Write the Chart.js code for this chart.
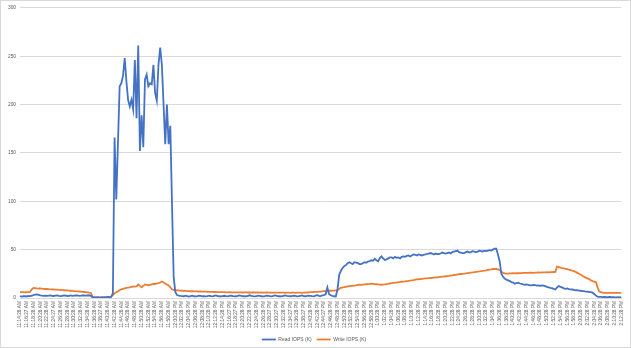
<!DOCTYPE html>
<html>
<head>
<meta charset="utf-8">
<script src="https://cdn.jsdelivr.net/npm/chart.js@4/dist/chart.umd.min.js"></script>
<style>
  html, body { margin: 0; padding: 0; background: #fff; }
  #box { width: 631px; height: 348px; box-sizing: border-box; border: 1px solid #d9d9d9; overflow: hidden; }
</style>
</head>
<body>
<div id="box"><canvas id="chart"></canvas></div>
<script>
// one sample every 30 s, a tick label every 2 min
const tickLabels = [
  '11:14:28 AM','11:16:27 AM','11:18:28 AM','11:20:28 AM','11:22:28 AM','11:24:27 AM','11:26:28 AM','11:28:28 AM',
  '11:30:28 AM','11:32:28 AM','11:34:28 AM','11:36:28 AM','11:38:27 AM','11:40:28 AM','11:42:28 AM','11:44:28 AM',
  '11:46:28 AM','11:48:28 AM','11:50:28 AM','11:52:28 AM','11:54:28 AM','11:56:28 AM','11:58:28 AM','12:00:28 PM',
  '12:02:28 PM','12:04:28 PM','12:06:28 PM','12:08:28 PM','12:10:28 PM','12:12:28 PM','12:14:28 PM','12:16:27 PM',
  '12:18:27 PM','12:20:28 PM','12:22:28 PM','12:24:28 PM','12:26:28 PM','12:28:27 PM','12:30:27 PM','12:32:28 PM',
  '12:34:27 PM','12:36:28 PM','12:38:27 PM','12:40:28 PM','12:42:28 PM','12:44:27 PM','12:46:28 PM','12:48:28 PM',
  '12:50:28 PM','12:52:28 PM','12:54:28 PM','12:56:28 PM','12:58:28 PM','1:00:28 PM','1:02:28 PM','1:04:28 PM',
  '1:06:28 PM','1:08:28 PM','1:10:28 PM','1:12:28 PM','1:14:28 PM','1:16:28 PM','1:18:28 PM','1:20:28 PM',
  '1:22:28 PM','1:24:28 PM','1:26:28 PM','1:28:28 PM','1:30:28 PM','1:32:28 PM','1:34:28 PM','1:36:28 PM',
  '1:38:28 PM','1:40:28 PM','1:42:28 PM','1:44:28 PM','1:46:28 PM','1:48:28 PM','1:50:28 PM','1:52:28 PM',
  '1:54:28 PM','1:56:28 PM','1:58:28 PM','2:00:28 PM','2:02:28 PM','2:04:28 PM','2:06:28 PM','2:08:28 PM',
  '2:10:28 PM','2:12:28 PM'
];

const readIops = [
  2,1.5,1.8,2,1.6,2.2,2,2.5,3,3.6,3.8,3.2,2.8,2.5,2.3,2.5,2.2,2.4,2.6,2.3,
  2.1,2.4,2.6,2.2,2,2.3,2.6,2.4,2.1,2.3,2.6,2.2,2.4,2.8,2.6,2.3,2.5,2.8,2.6,2.4,
  2.6,2.8,2.2,0.6,0.5,0.6,0.5,0.4,0.6,0.5,0.5,0.6,1,0.8,1,5,166,102,160,219,
  222,230,248,224,205,198,205,195,246,186,261,152,189,156,226,231,219,222,221,241,
  212,204,241,259,241,200,159,200,159,178,97,21,6,3,2.5,2.2,2,1.8,2.4,2,
  1.5,2,2.4,1.8,1.6,2,2.5,2.2,1.8,2,1.6,1.9,2.4,2,1.7,2.2,2.6,2,1.8,1.6,
  2,2.3,1.9,1.7,2.1,2.5,2,1.6,1.8,2.2,2.6,2.1,1.8,2,1.7,2.3,2.8,2.2,1.9,1.7,
  2,2.4,2.1,1.8,1.6,2,2.5,2.2,1.9,1.7,2.1,2.6,2.3,1.8,2,1.7,2.2,2.7,2.1,1.9,
  1.8,2,2.4,2.1,1.7,1.9,2.3,2.6,2,1.8,2.1,2.5,2.2,1.9,1.7,2.4,2.9,2.3,2,2.6,
  3,4,11,4,2.8,2.2,1.8,1.5,9,24,28,31,33,34,36,37,36,35,37,36.5,
  36,35,35,36,37,36.5,37.7,38,39,38.5,40.5,39,38,41,43,41,39.4,40,41,42,
  42,41,42.5,41.5,42,41,42.5,43,42.5,43.5,44,43,44,45,44.7,44,45,44.5,44,44.7,
  45,45.5,46,46.5,46,45,46,45.5,45.4,46,47,46.5,46,46.5,47,46,47.5,48,48.5,49,
  47.5,47,46.5,46.5,47.5,48,47,47.5,48.5,48,47.5,48,49,48.5,48,49,48.5,49,49.5,49,
  50,51,51,45,38,25,22,20,19,18.3,17.5,16.5,16,14.8,15.5,15.8,15,14.5,14,13.7,
  14,13.5,13.2,13,13.5,13.2,12.8,13,12.5,13,12.8,12.3,11.5,11,10.5,10.2,9.5,8.8,11,12.3,
  11.5,11,10,9.5,9.8,9.2,9,8.8,8.5,8,8.2,7.7,7.5,7.2,7,6.7,6.5,6.2,6,5.5,
  4.2,2.5,1.4,1.2,1.1,1,1.2,1,1,1.1,0.9,1,0.8,0.7,0.9,0.7,0.8
];

const writeIops = [
  6,6,6,5.8,6,6,6.2,9,10.5,10.3,10,9.8,9.9,9.6,9.5,9.3,9.4,9.1,9,8.9,
  8.8,8.6,8.6,8.4,8.3,8.1,8,7.9,7.8,7.6,7.5,7.3,7.2,7,6.9,6.7,6.6,6.4,6.2,6,
  5.8,5.5,5.2,1,0.8,0.7,0.8,0.7,0.6,0.7,0.8,0.7,0.7,0.8,1.5,3,5,6,7,8,
  9,9.5,10,10.5,10.8,11,11.5,12,11.8,12,14,12.5,11,12.5,14,13.5,13,13.5,14,14.5,
  14.5,15,15.5,16,17,16,15,14,13,11,9,8.5,8,7.8,7.8,7.6,7.5,7.4,7.3,7.2,
  7.1,7,7,6.9,6.8,6.8,6.7,6.7,6.6,6.5,6.5,6.4,6.4,6.3,6.3,6.2,6.2,6.1,6.1,6,
  6,6,5.9,5.9,6,5.9,5.8,5.9,5.8,5.8,5.9,5.8,5.7,5.8,5.8,5.7,5.8,5.7,5.7,5.8,
  5.7,5.7,5.6,5.7,5.6,5.6,5.7,5.6,5.5,5.6,5.6,5.5,5.6,5.5,5.5,5.6,5.5,5.4,5.5,5.5,
  5.4,5.5,5.5,5.4,5.5,5.6,5.5,5.4,5.5,5.6,5.7,5.8,6,6.1,6.2,6.3,6.4,6.5,6.6,6.8,
  7,7.2,7.4,7.5,7.5,7.6,7.6,7.8,8,9.5,10.5,11,11.2,11.6,12,12.3,12.5,12.6,12.8,13,
  13.5,13.7,13.5,13.8,14,14.2,14.3,14.5,14.8,14.6,14.4,14.2,14,13.8,13.7,13.8,14,14.3,14.6,15,
  15.3,15.6,15.8,16,16.5,16.6,16.8,17,17.2,17.5,17.7,18,18.3,18.6,19,19.2,19.4,19.6,19.8,20,
  20.2,20.3,20.5,20.7,20.8,21,21.2,21.4,21.6,21.8,22,22.2,22.5,22.7,22.9,23.2,23.5,23.8,24,24.3,
  24.6,24.8,25,25.3,25.5,25.8,26,26.3,26.5,26.8,27,27.3,27.5,27.8,28,28.3,28.6,29,29.3,29.6,
  30,30,30.2,29.5,29,27,26,25.5,25.3,25.3,25.5,25.4,25.6,25.5,25.7,25.6,25.8,25.7,25.9,26,
  26,25.9,26.1,26.2,26,26.3,26.2,26.4,26.3,26.4,26.5,26.4,26.6,26.5,26.7,26.8,26.9,27,32.4,32,
  31.5,31,30.6,30.2,29.8,29.4,28.8,28.3,27.8,27,26,25,24,23,21.8,21,20.3,19.5,18.3,17.5,
  17,16.5,11,6.7,6,5.6,5.3,5.3,5.2,5.3,5.3,5.2,5.3,5.3,5.2,5.3,5.3
];

const labels = readIops.map((v, i) => (i % 4 === 0 ? tickLabels[i / 4] : ''));
const font = '"Liberation Sans", sans-serif';

new Chart(document.getElementById('chart'), {
  type: 'line',
  data: {
    labels: labels,
    datasets: [
      { label: 'Read IOPS (K)', data: readIops, borderColor: '#4472C4', backgroundColor: '#4472C4',
        borderWidth: 1.8, pointRadius: 0, tension: 0, fill: false },
      { label: 'Write IOPS (K)', data: writeIops, borderColor: '#ED7D31', backgroundColor: '#ED7D31',
        borderWidth: 1.8, pointRadius: 0, tension: 0, fill: false }
    ]
  },
  options: {
    responsive: true,
    maintainAspectRatio: false,
    animation: false,
    // legend box carries 10px of built-in slack, pull it down a bit
    layout: { padding: { left: 3, right: 6, top: 2, bottom: -5 } },
    plugins: {
      tooltip: { enabled: false },
      legend: {
        position: 'bottom',
        labels: {
          usePointStyle: true, pointStyle: 'line', pointStyleWidth: 14,
          color: '#595959', font: { family: font, size: 5 }, padding: 5
        }
      }
    },
    scales: {
      x: {
        grid: { display: false, drawTicks: false },
        border: { color: '#d9d9d9' },
        afterFit: (scale) => { scale.height = 34; },
        ticks: {
          autoSkip: false, maxRotation: 90, minRotation: 90, padding: 3,
          color: '#595959', font: { family: font, size: 4.8 }
        }
      },
      y: {
        min: 0, max: 300,
        grid: { color: '#d9d9d9', drawTicks: false },
        border: { display: false },
        ticks: { stepSize: 50, padding: 4, color: '#595959', font: { family: font, size: 4.8 } }
      }
    }
  }
});
</script>
</body>
</html>
